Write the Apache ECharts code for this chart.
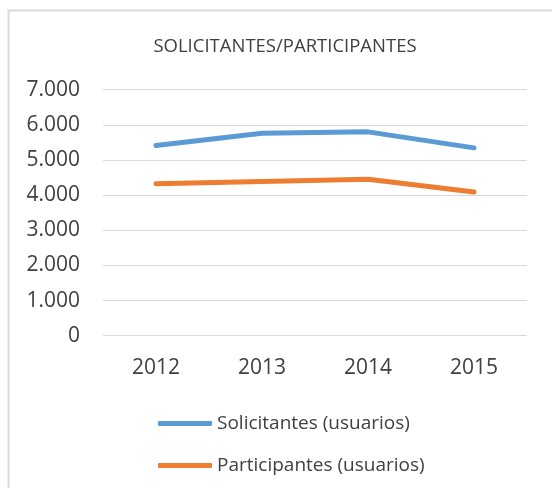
<!DOCTYPE html>
<html>
<head>
<meta charset="utf-8">
<script src="https://cdn.jsdelivr.net/npm/echarts@6/dist/echarts.min.js"></script>
<style>
  html, body { margin: 0; padding: 0; background: #fff; }
  #chart { width: 552px; height: 488px; }
</style>
</head>
<body>
<div id="chart"></div>
<script>
const years = ['2012', '2013', '2014', '2015'];
const solicitantes = [5410, 5760, 5800, 5345];
const participantes = [4325, 4390, 4450, 4090];
const yTicks = [0, 1000, 2000, 3000, 4000, 5000, 6000, 7000];

const textColor = '#404040';
const fontFamily = '"Open Sans", "Noto Sans", sans-serif';

// 7000 -> "7.000"
const fmt = (v) => String(v).replace(/\B(?=(\d{3})+(?!\d))/g, '.');

const chart = echarts.init(document.getElementById('chart'));
chart.setOption({
    animation: false,
    graphic: [
        {
            type: 'rect',
            shape: { x: 8.5, y: 10.5, width: 700, height: 700 },
            style: { fill: 'none', stroke: '#d9d9d9', lineWidth: 2 },
            silent: true,
        },
    ],
    title: {
        text: 'SOLICITANTES/PARTICIPANTES',
        left: 280,
        top: 32,
        textAlign: 'center',
        textStyle: {
            color: textColor,
            fontSize: 18.5,
            fontWeight: 'normal',
            fontFamily,
        },
    },
    grid: {
        left: 103,
        right: 25,
        top: 89.7,
        bottom: 152.3,
        containLabel: false,
    },
    xAxis: {
        type: 'category',
        data: years,
        boundaryGap: true,
        axisLine: { show: false },
        axisTick: { show: false },
        axisLabel: {
            color: textColor,
            fontSize: 21,
            fontFamily,
            margin: 22,
        },
    },
    yAxis: {
        type: 'value',
        min: yTicks[0],
        max: yTicks[yTicks.length - 1],
        interval: 1000,
        axisLine: { show: false },
        axisTick: { show: false },
        splitLine: { lineStyle: { color: '#d9d9d9', width: 1 } },
        axisLabel: {
            color: textColor,
            fontSize: 21,
            fontFamily,
            margin: 23,
            formatter: fmt,
        },
    },
    legend: {
        orient: 'vertical',
        left: 153,
        top: 409,
        itemWidth: 54,
        itemHeight: 5,
        itemGap: 23,
        icon: 'roundRect',
        textStyle: {
            color: textColor,
            fontSize: 19,
            fontFamily,
        },
        data: ['Solicitantes (usuarios)', 'Participantes (usuarios)'],
    },
    series: [
        {
            name: 'Solicitantes (usuarios)',
            type: 'line',
            data: solicitantes,
            showSymbol: false,
            symbol: 'none',
            lineStyle: { color: '#5b9bd5', width: 5, cap: 'round', join: 'round' },
            itemStyle: { color: '#5b9bd5' },
        },
        {
            name: 'Participantes (usuarios)',
            type: 'line',
            data: participantes,
            showSymbol: false,
            symbol: 'none',
            lineStyle: { color: '#ed7d31', width: 5, cap: 'round', join: 'round' },
            itemStyle: { color: '#ed7d31' },
        },
    ],
});
</script>
</body>
</html>
